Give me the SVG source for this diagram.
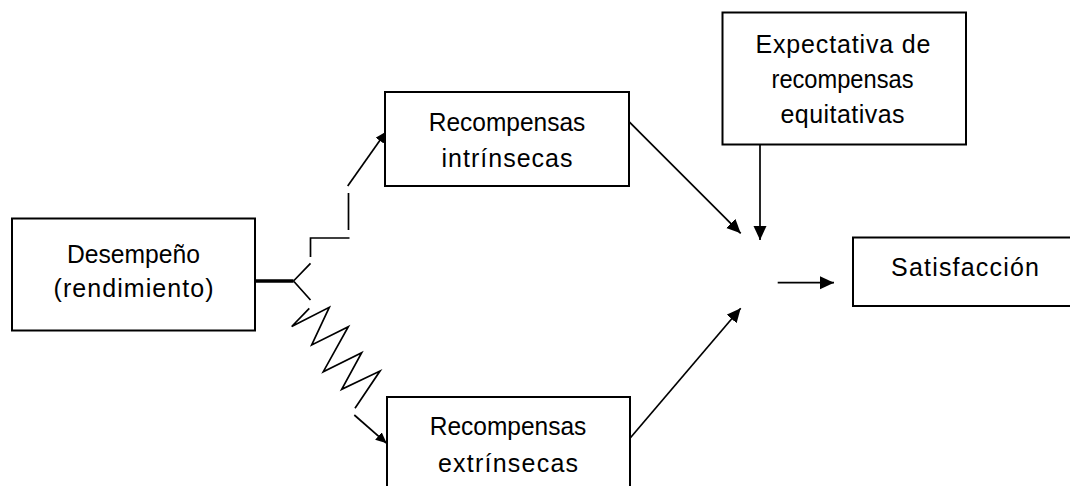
<svg xmlns="http://www.w3.org/2000/svg" width="1070" height="486" viewBox="0 0 1070 486">
  <style>
    .box { fill: #ffffff; stroke: #000000; stroke-width: 2; }
    .lbl { font-family: "Liberation Sans", Arial, sans-serif; font-size: 25px; fill: #000000; text-anchor: middle; }
    .ln { fill: none; stroke: #000000; stroke-width: 1.7; }
  </style>
  <defs>
    <marker id="headBig" markerUnits="userSpaceOnUse" markerWidth="15" markerHeight="14" refX="14" refY="6.5" orient="auto">
      <path d="M0,0 L14,6.5 L0,13 z" fill="#000000"/>
    </marker>
    <marker id="headSmall" markerUnits="userSpaceOnUse" markerWidth="12" markerHeight="11" refX="11" refY="5" orient="auto">
      <path d="M0,0 L11,5 L0,10 z" fill="#000000"/>
    </marker>
  </defs>

  <rect width="1070" height="486" fill="#ffffff"/>

  <!-- connectors -->
  <g id="connectors">
    <!-- thick stem leaving Desempeño and the fork -->
    <line x1="255" y1="281" x2="293.5" y2="281" stroke="#000" stroke-width="3.5"/>
    <path class="ln" d="M293.5,281 L310.5,263.3 M293.5,281 L310.5,300"/>
    <!-- stepped path towards intrinsic rewards -->
    <path class="ln" d="M310.5,257 L310.5,238 L349.5,238 M348.5,230 L348.5,193"/>
    <line class="ln" x1="347.7" y1="186" x2="386" y2="131.7" marker-end="url(#headSmall)"/>
    <!-- zigzag path towards extrinsic rewards -->
    <polyline class="ln" stroke-linejoin="miter" points="309.3,308.3 291.7,326.5 329.3,307.3 311.7,345 348.3,326.7 323.3,371.7 361.7,352.7 341.7,389.3 380,371 355,408.3"/>
    <line class="ln" x1="354.3" y1="415" x2="386.7" y2="443.3" marker-end="url(#headSmall)"/>
    <!-- converging arrows -->
    <line class="ln" x1="629" y1="121.7" x2="740.7" y2="233.3" marker-end="url(#headBig)"/>
    <line class="ln" x1="760" y1="128.3" x2="760" y2="240" marker-end="url(#headBig)"/>
    <line class="ln" x1="630" y1="438.3" x2="740.7" y2="308.3" marker-end="url(#headBig)"/>
    <line class="ln" x1="777.7" y1="282.7" x2="834" y2="282.7" marker-end="url(#headBig)"/>
  </g>

  <g id="desempeno">
    <rect class="box" x="12" y="218.5" width="243" height="112"/>
    <text class="lbl" x="133.5" y="263.3" textLength="133" lengthAdjust="spacingAndGlyphs">Desempeño</text>
    <text class="lbl" x="133.5" y="296.7" textLength="160" lengthAdjust="spacing">(rendimiento)</text>
  </g>

  <g id="intrinsecas">
    <rect class="box" x="385" y="92" width="244" height="94"/>
    <text class="lbl" x="507" y="131" textLength="156.5" lengthAdjust="spacingAndGlyphs">Recompensas</text>
    <text class="lbl" x="507" y="166.7" textLength="131" lengthAdjust="spacing">intrínsecas</text>
  </g>

  <g id="extrinsecas">
    <rect class="box" x="387" y="397" width="243" height="100"/>
    <text class="lbl" x="508" y="435" textLength="156.5" lengthAdjust="spacingAndGlyphs">Recompensas</text>
    <text class="lbl" x="508" y="471.7" textLength="140" lengthAdjust="spacing">extrínsecas</text>
  </g>

  <g id="expectativa">
    <rect class="box" x="722.5" y="12.5" width="243.5" height="132"/>
    <text class="lbl" x="843" y="52.5" textLength="175" lengthAdjust="spacing">Expectativa de</text>
    <text class="lbl" x="842.5" y="87.5" textLength="142" lengthAdjust="spacingAndGlyphs">recompensas</text>
    <text class="lbl" x="842.5" y="122.5" textLength="124" lengthAdjust="spacing">equitativas</text>
  </g>

  <g id="satisfaccion">
    <rect class="box" x="853" y="237.5" width="225" height="68.5"/>
    <text class="lbl" x="965" y="275.7" textLength="148" lengthAdjust="spacing">Satisfacción</text>
  </g>
</svg>
